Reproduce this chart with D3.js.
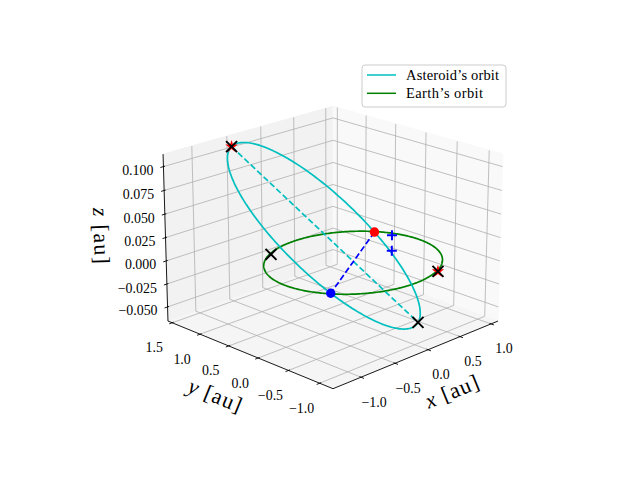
<!DOCTYPE html>
<html>
<head>
<meta charset="utf-8">
<script src="https://d3js.org/d3.v7.min.js"></script>
<style>
  body { margin: 0; background: #fff; }
  text { font-family: "Liberation Serif", "DejaVu Serif", serif; fill: #000; }
</style>
</head>
<body>
<div id="chart"></div>
<script>
var width = 640, height = 480;

// axis limits (pane extents) and tick values
var xLim = [-1.40, 1.115], yLim = [-1.21, 1.577], zLim = [-0.0655, 0.113];
var xTicks = [-1.0, -0.5, 0.0, 0.5, 1.0];
var yTicks = [-1.0, -0.5, 0.0, 0.5, 1.0, 1.5];
var zTicks = [-0.050, -0.025, 0.000, 0.025, 0.050, 0.075, 0.100];

// orbital elements [asteroid, earth]
var orbitNames = ["Asteroid\u2019s orbit", "Earth\u2019s orbit"];
var orbitColors = ["#00bfbf", "#008000"];
var semiMajor = [1.08, 1.0];    // au
var ecc = [0.30, 0.0];
var incl = [4.7, 0.0];          // deg
var ascNode = [33.0, 0.0];      // deg
var argPeri = [270.0, 0.0];     // deg

// marked points (x, y, z in au)
var apsides = [[-0.762, 1.174, 0.1150], [0.410, -0.631, -0.0620]];
var crossPts = [[-0.762, 1.174, 0.1150], [-0.472, 0.863, 0.0], [0.410, -0.631, -0.0620], [0.417, -0.927, 0.0]];
var starPts = [[-0.762, 1.174, 0.1150], [0.417, -0.927, 0.0]];
var plusPts = [[0.884, 0.302, 0.0], [0.884, 0.302, -0.0172]];
var nodePts = [[0.824, 0.535, 0.0], [-0.824, -0.535, 0.0]];
var nodeColors = ["#ff0000", "#0000ff"];

// ---- 3d projection (perspective, like mplot3d) ----
var aspect = [4, 4, 3];
var an = Math.hypot(aspect[0], aspect[1], aspect[2]);
var box = aspect.map(function(a) { return a * 1.8294640721620434 / an; });
var xS = d3.scaleLinear().domain(xLim).range([0, box[0]]);
var yS = d3.scaleLinear().domain(yLim).range([0, box[1]]);
var zS = d3.scaleLinear().domain(zLim).range([0, box[2]]);

var elev = 20 * Math.PI / 180, azim = -135 * Math.PI / 180, dist = 10;
var K = 2072, cx = 333, cy = 238.8;
var wv = [Math.cos(elev) * Math.cos(azim), Math.cos(elev) * Math.sin(azim), Math.sin(elev)];
var uv = [-Math.sin(azim), Math.cos(azim), 0];
var vv = [-Math.sin(elev) * Math.cos(azim), -Math.sin(elev) * Math.sin(azim), Math.cos(elev)];
function dot(a, b) { return a[0] * b[0] + a[1] * b[1] + a[2] * b[2]; }

function proj(p) {
  var d = [xS(p[0]) - box[0] / 2, yS(p[1]) - box[1] / 2, zS(p[2]) - box[2] / 2];
  var den = dist - dot(wv, d);
  return [cx + K * dot(uv, d) / den, cy - K * dot(vv, d) / den];
}

var svg = d3.select('#chart').append('svg')
  .attr('width', width).attr('height', height);

var x0 = xLim[0], x1 = xLim[1], y0 = yLim[0], y1 = yLim[1], z0 = zLim[0], z1 = zLim[1];

// panes
var panes = [
  { pts: [[x0, y1, z0], [x1, y1, z0], [x1, y1, z1], [x0, y1, z1]], fill: '#f2f2f2' },
  { pts: [[x1, y0, z0], [x1, y1, z0], [x1, y1, z1], [x1, y0, z1]], fill: '#f9f9f9' },
  { pts: [[x0, y0, z0], [x1, y0, z0], [x1, y1, z0], [x0, y1, z0]], fill: '#f5f5f5' }
];
var line = d3.line();
svg.selectAll('.pane').data(panes).enter().append('path')
  .attr('class', 'pane')
  .attr('d', function(d) { return line(d.pts.map(proj)) + 'Z'; })
  .attr('fill', function(d) { return d.fill; })
  .attr('stroke', function(d) { return d.fill; });

// grid lines
var grid = [];
xTicks.forEach(function(t) { grid.push([[t, y0, z0], [t, y1, z0], [t, y1, z1]]); });
yTicks.forEach(function(t) { grid.push([[x1, t, z1], [x1, t, z0], [x0, t, z0]]); });
zTicks.forEach(function(t) { grid.push([[x0, y1, t], [x1, y1, t], [x1, y0, t]]); });
svg.selectAll('.grid').data(grid).enter().append('path')
  .attr('class', 'grid')
  .attr('d', function(d) { return line(d.map(proj)); })
  .attr('fill', 'none')
  .attr('stroke', '#b0b0b0')
  .attr('stroke-width', 0.8);

// axis lines
var axes = [[[x0, y0, z0], [x1, y0, z0]], [[x0, y0, z0], [x0, y1, z0]], [[x0, y1, z0], [x0, y1, z1]]];
svg.selectAll('.axis').data(axes).enter().append('path')
  .attr('class', 'axis')
  .attr('d', function(d) { return line(d.map(proj)); })
  .attr('stroke', '#000').attr('stroke-width', 0.9).attr('fill', 'none');

// ticks
var dx = (x1 - x0) / 12, dy = (y1 - y0) / 12;
var ticks = [];
xTicks.forEach(function(t) { ticks.push([[t, y0 + 0.1 * dy, z0], [t, y0 - 0.2 * dy, z0]]); });
yTicks.forEach(function(t) { ticks.push([[x0 + 0.1 * dx, t, z0], [x0 - 0.2 * dx, t, z0]]); });
zTicks.forEach(function(t) { ticks.push([[x0 + 0.1 * dx, y1, t], [x0 - 0.2 * dx, y1, t]]); });
svg.selectAll('.tick').data(ticks).enter().append('path')
  .attr('class', 'tick')
  .attr('d', function(d) { return line(d.map(proj)); })
  .attr('stroke', '#000').attr('stroke-width', 0.9);

// tick labels
var f1 = d3.format('.1f'), f3 = d3.format('.3f');
svg.selectAll('.xl').data(xTicks).enter().append('text')
  .attr('x', function(t) { return proj([t, y0, z0])[0] + 13; })
  .attr('y', function(t) { return proj([t, y0, z0])[1] + 29.5; })
  .attr('text-anchor', 'middle').attr('font-size', 13.9)
  .text(f1);
svg.selectAll('.yl').data(yTicks).enter().append('text')
  .attr('x', function(t) { return proj([x0, t, z0])[0] - 18; })
  .attr('y', function(t) { return proj([x0, t, z0])[1] + 29.5; })
  .attr('text-anchor', 'middle').attr('font-size', 13.9)
  .text(f1);
svg.selectAll('.zl').data(zTicks).enter().append('text')
  .attr('x', function(t) { return proj([x0, y1, t])[0] - 10; })
  .attr('y', function(t) { return proj([x0, y1, t])[1] + 8.5; })
  .attr('text-anchor', 'end').attr('font-size', 13.9)
  .text(f3);

// axis labels
function axisLabel(name, p, ox, oy, rot) {
  var q = proj(p);
  var t = svg.append('text')
    .attr('transform', 'translate(' + (q[0] + ox) + ',' + (q[1] + oy) + ') rotate(' + rot + ')')
    .attr('text-anchor', 'middle').attr('dy', '0.35em')
    .attr('font-size', 22).attr('textLength', 56);
  t.append('tspan').attr('font-style', 'italic').text(name);
  t.append('tspan').text(' [au]');
}
axisLabel('x', [(x0 + x1) / 2, y0, z0], 33, 37.5, -22);
axisLabel('y', [x0, (y0 + y1) / 2, z0], -32, 41.5, 22);
axisLabel('z', [x0, y1, (z0 + z1) / 2], -64, -3, 88);

// orbits
function orbitPoint(k, nu) {
  var p = semiMajor[k] * (1 - ecc[k] * ecc[k]);
  var r = p / (1 + ecc[k] * Math.cos(nu));
  var O = ascNode[k] * Math.PI / 180, i = incl[k] * Math.PI / 180;
  var u = argPeri[k] * Math.PI / 180 + nu;
  return [r * (Math.cos(O) * Math.cos(u) - Math.sin(O) * Math.sin(u) * Math.cos(i)),
          r * (Math.sin(O) * Math.cos(u) + Math.cos(O) * Math.sin(u) * Math.cos(i)),
          r * Math.sin(u) * Math.sin(i)];
}
var nus = d3.range(0, 361).map(function(d) { return d * Math.PI / 180; });
svg.selectAll('.orbit').data([1, 0]).enter().append('path')
  .attr('class', 'orbit')
  .attr('d', function(k) { return line(nus.map(function(n) { return proj(orbitPoint(k, n)); })); })
  .attr('fill', 'none')
  .attr('stroke', function(k) { return orbitColors[k]; })
  .attr('stroke-width', 1.7);

// dashed lines: apsides and nodes
svg.append('path').attr('d', line(apsides.map(proj)))
  .attr('stroke', orbitColors[0]).attr('stroke-width', 1.7).attr('stroke-dasharray', '6,2.8');
svg.append('path').attr('d', line(nodePts.map(proj)))
  .attr('stroke', '#0000ff').attr('stroke-width', 1.7).attr('stroke-dasharray', '6,2.8');

// markers
svg.selectAll('.node').data(nodePts).enter().append('circle')
  .attr('cx', function(d) { return proj(d)[0]; })
  .attr('cy', function(d) { return proj(d)[1]; })
  .attr('r', 4.7)
  .attr('fill', function(d, i) { return nodeColors[i]; });

svg.selectAll('.plus').data(plusPts).enter().append('path')
  .attr('transform', function(d) { var q = proj(d); return 'translate(' + q[0] + ',' + q[1] + ')'; })
  .attr('d', 'M-5,0H5M0,-5V5')
  .attr('stroke', '#0000ff').attr('stroke-width', 2);

svg.selectAll('.star').data(starPts).enter().append('path')
  .attr('transform', function(d) { var q = proj(d); return 'translate(' + q[0] + ',' + q[1] + ')'; })
  .attr('d', d3.symbol(d3.symbolStar, 48))
  .attr('fill', '#ff0000');

svg.selectAll('.cross').data(crossPts).enter().append('path')
  .attr('transform', function(d) { var q = proj(d); return 'translate(' + q[0] + ',' + q[1] + ')'; })
  .attr('d', 'M-5.5,-5.5L5.5,5.5M-5.5,5.5L5.5,-5.5')
  .attr('stroke', '#000').attr('stroke-width', 2);

// legend
var lg = svg.append('g').attr('transform', 'translate(362,65)');
lg.append('rect').attr('width', 144).attr('height', 42).attr('rx', 3)
  .attr('fill', '#fff').attr('fill-opacity', 0.8)
  .attr('stroke', '#cccccc').attr('stroke-width', 1);
var legW = [93, 77];
orbitNames.forEach(function(n, i) {
  lg.append('line').attr('x1', 5).attr('x2', 34)
    .attr('y1', 10 + i * 18.3).attr('y2', 10 + i * 18.3)
    .attr('stroke', orbitColors[i]).attr('stroke-width', 1.5);
  lg.append('text').attr('x', 44).attr('y', 15 + i * 18.3)
    .attr('font-size', 14.5).attr('textLength', legW[i])
    .text(n);
});
</script>
</body>
</html>
